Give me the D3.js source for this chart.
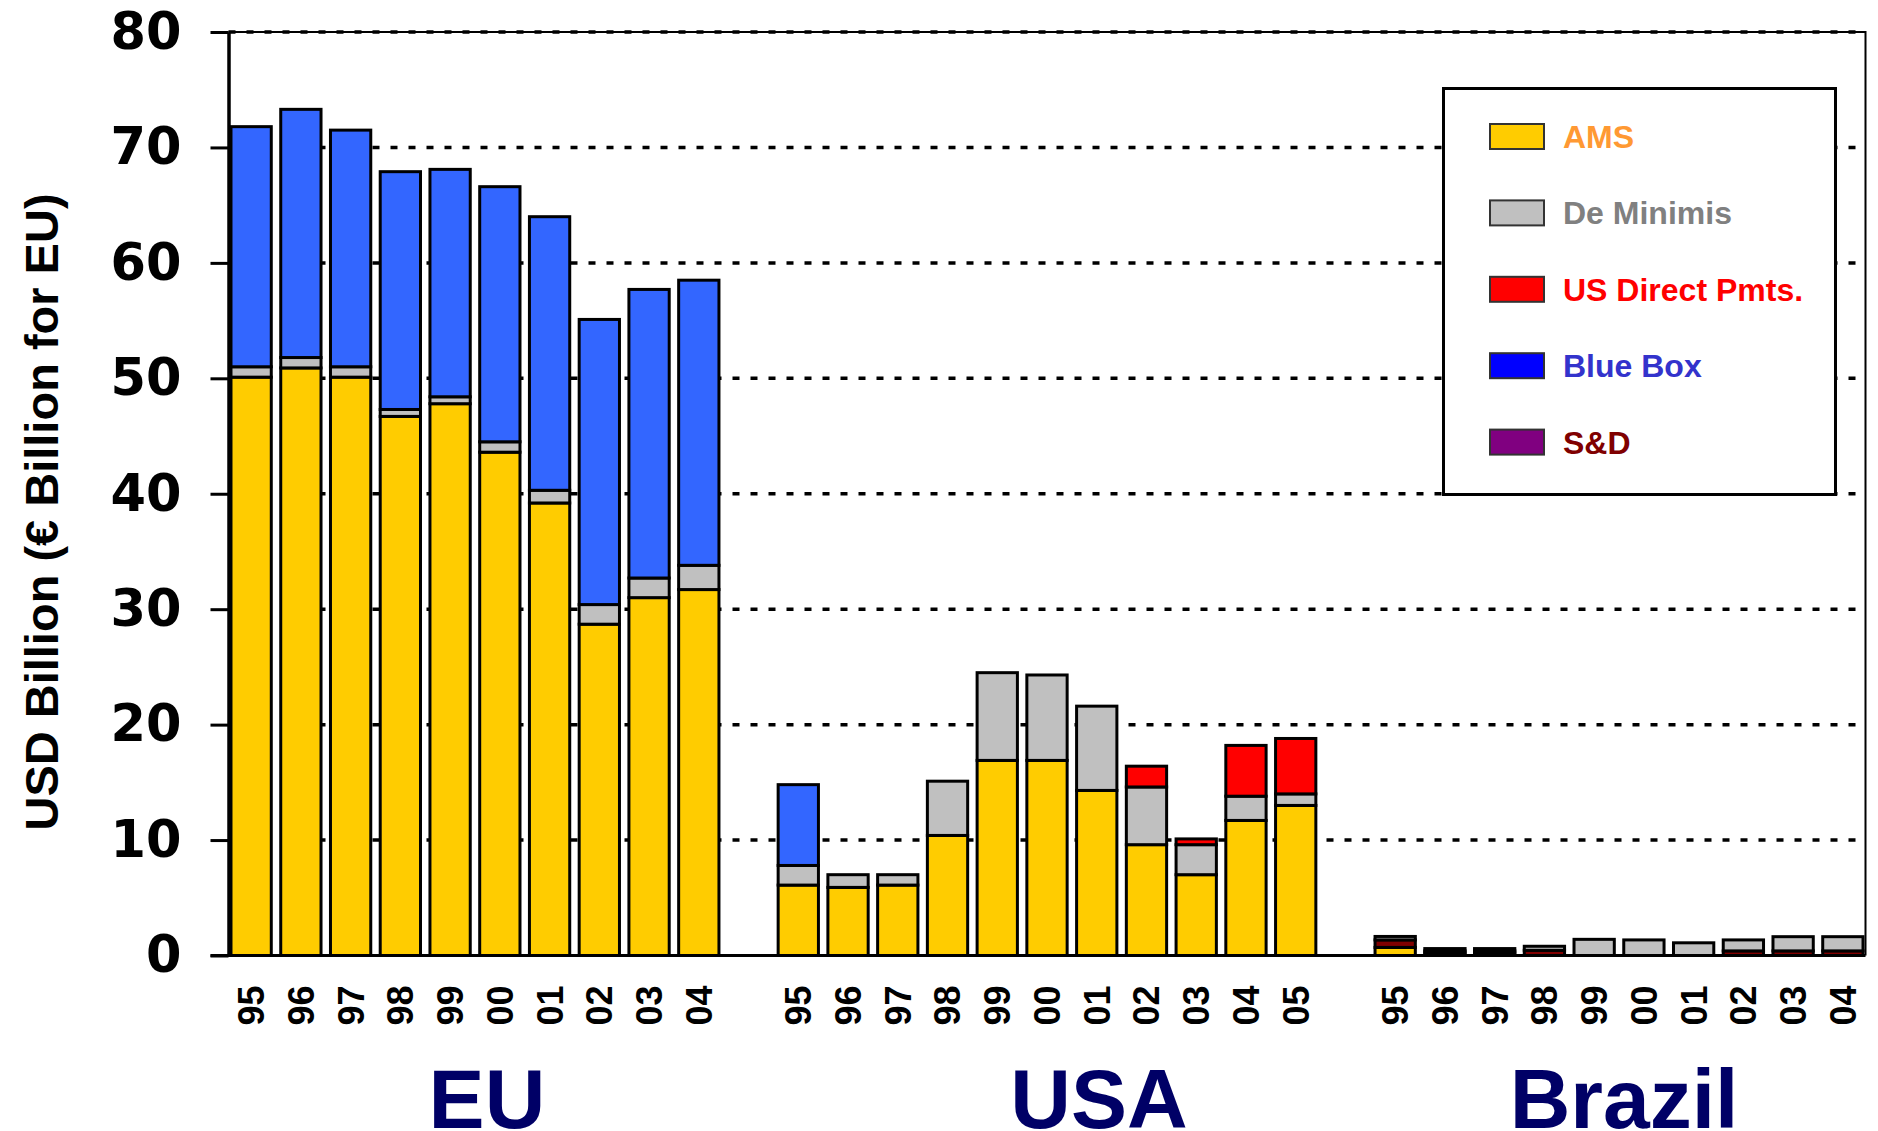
<!DOCTYPE html>
<html>
<head>
<meta charset="utf-8">
<script src="https://cdn.jsdelivr.net/npm/d3@7"></script>
<style>
  body { margin: 0; background: #fff; }
  svg { display: block; font-family: "Liberation Sans", Arial, sans-serif; font-weight: bold; }
</style>
</head>
<body>
<svg></svg>
<script>
// ---- data ----
const regionNames = ['EU', 'USA', 'Brazil'];
const euYears = ['95', '96', '97', '98', '99', '00', '01', '02', '03', '04'];
const usaYears = ['95', '96', '97', '98', '99', '00', '01', '02', '03', '04', '05'];
const brazilYears = ['95', '96', '97', '98', '99', '00', '01', '02', '03', '04'];

const euAMS = [50.1, 50.9, 50.1, 46.7, 47.8, 43.6, 39.2, 28.7, 31.0, 31.7];
const euDeMinimis = [0.9, 0.9, 0.9, 0.6, 0.6, 0.9, 1.1, 1.7, 1.7, 2.1];
const euBlueBox = [20.8, 21.5, 20.5, 20.6, 19.7, 22.1, 23.7, 24.7, 25.0, 24.7];

const usaAMS = [6.1, 5.9, 6.1, 10.4, 16.9, 16.9, 14.3, 9.6, 7.0, 11.7, 13.0];
const usaDeMinimis = [1.7, 1.1, 0.9, 4.7, 7.6, 7.4, 7.3, 5.0, 2.6, 2.1, 1.0];
const usaDirectPmts = [0, 0, 0, 0, 0, 0, 0, 1.8, 0.5, 4.4, 4.8];
const usaBlueBox = [7.0, 0, 0, 0, 0, 0, 0, 0, 0, 0, 0];

const brazilAMS = [0.7, 0.2, 0.2, 0, 0, 0, 0, 0, 0, 0];
const brazilSD = [0.65, 0.2, 0.2, 0.45, 0, 0, 0, 0.4, 0.4, 0.4];
const brazilDeMinimis = [0.3, 0.2, 0.2, 0.35, 1.4, 1.35, 1.1, 0.95, 1.23, 1.23];

const yTicks = [0, 10, 20, 30, 40, 50, 60, 70, 80];
const stackKeys = ['AMS', 'S&D', 'De Minimis', 'US Direct Pmts.', 'Blue Box'];
const legendKeys = ['AMS', 'De Minimis', 'US Direct Pmts.', 'Blue Box', 'S&D'];
const yTitle = 'USD Billion (€ Billion for EU)';

// ---- styles ----
const barColors = { 'AMS': '#ffcc00', 'S&D': '#800000', 'De Minimis': '#c0c0c0', 'US Direct Pmts.': '#ff0000', 'Blue Box': '#3366ff' };
const swatchColors = { 'AMS': '#ffcc00', 'S&D': '#800080', 'De Minimis': '#c0c0c0', 'US Direct Pmts.': '#ff0000', 'Blue Box': '#0000ff' };
const legendTextColors = { 'AMS': '#ff9933', 'S&D': '#800000', 'De Minimis': '#808080', 'US Direct Pmts.': '#ff0000', 'Blue Box': '#3333cc' };

const width = 1878;
const height = 1131;
const margin = { top: 32, right: 12.5, bottom: 175.5, left: 228.5 };
const plotRight = width - margin.right;
const plotBottom = height - margin.bottom;

// ---- build one row per bar; a blank slot separates the regions ----
function regionRows(region, years, series) {
  return years.map((year, i) => {
    const row = { slot: `${region}-${year}`, year: year };
    stackKeys.forEach((key) => { row[key] = series[key] ? series[key][i] : 0; });
    return row;
  });
}

const rows = [
  ...regionRows('EU', euYears, { 'AMS': euAMS, 'De Minimis': euDeMinimis, 'Blue Box': euBlueBox }),
  ...regionRows('USA', usaYears, { 'AMS': usaAMS, 'De Minimis': usaDeMinimis, 'US Direct Pmts.': usaDirectPmts, 'Blue Box': usaBlueBox }),
  ...regionRows('Brazil', brazilYears, { 'AMS': brazilAMS, 'S&D': brazilSD, 'De Minimis': brazilDeMinimis })
];
const regionSlots = [euYears, usaYears, brazilYears].map((years, r) => years.map((y) => `${regionNames[r]}-${y}`));
const slots = [...regionSlots[0], 'gap-1', ...regionSlots[1], 'gap-2', ...regionSlots[2]];

const svg = d3.select('svg')
  .attr('width', width)
  .attr('height', height);

svg.append('rect').attr('width', width).attr('height', height).attr('fill', '#fff');

const x = d3.scaleBand()
  .domain(slots)
  .range([margin.left, plotRight])
  .paddingInner(0.19)
  .paddingOuter(0.05);

const y = d3.scaleLinear()
  .domain([0, 80])
  .range([plotBottom, margin.top]);

// dotted gridlines go first, bars hide them
svg.append('g')
  .selectAll('line')
  .data(yTicks.filter((t) => t > 0))
  .enter()
  .append('line')
  .attr('x1', margin.left)
  .attr('x2', plotRight)
  .attr('y1', (d) => y(d))
  .attr('y2', (d) => y(d))
  .attr('stroke', '#000')
  .attr('stroke-width', 3.5)
  .attr('stroke-dasharray', '7,11');

// thin frame on top and right
svg.append('path')
  .attr('d', `M${margin.left},${margin.top}H${plotRight}V${plotBottom}`)
  .attr('fill', 'none')
  .attr('stroke', '#000')
  .attr('stroke-width', 2);

// stacked bars
const stacked = d3.stack().keys(stackKeys)(rows);
svg.append('g')
  .selectAll('g')
  .data(stacked)
  .enter()
  .append('g')
  .attr('fill', (s) => barColors[s.key])
  .selectAll('rect')
  .data((s) => s.filter((d) => d[1] - d[0] > 0))
  .enter()
  .append('rect')
  .attr('x', (d) => x(d.data.slot))
  .attr('width', x.bandwidth())
  .attr('y', (d) => y(d[1]))
  .attr('height', (d) => y(d[0]) - y(d[1]))
  .attr('stroke', '#000')
  .attr('stroke-width', 3);

// y axis with long ticks and big numbers
const yAxis = svg.append('g')
  .attr('transform', `translate(${margin.left},0)`)
  .call(d3.axisLeft(y).tickValues(yTicks).tickSize(18).tickSizeOuter(0).tickPadding(29));
yAxis.select('.domain').attr('stroke-width', 3.5);
yAxis.selectAll('.tick line').attr('stroke-width', 3);
yAxis.selectAll('.tick text')
  .attr('fill', '#000')
  .style('font-family', '"DejaVu Sans", sans-serif')
  .style('font-weight', 'bold')
  .style('font-size', '51px');

// bottom axis: year labels rotated, only on real bars
const xAxis = svg.append('g')
  .attr('transform', `translate(0,${plotBottom})`)
  .call(d3.axisBottom(x)
    .tickValues(rows.map((r) => r.slot))
    .tickFormat((s) => s.split('-')[1])
    .tickSize(0));
xAxis.select('.domain').remove();
xAxis.selectAll('.tick text')
  .attr('transform', 'rotate(-90)')
  .attr('x', -30)
  .attr('y', 0)
  .attr('dy', '0.36em')
  .attr('text-anchor', 'end')
  .attr('fill', '#000')
  .style('font-family', '"Liberation Sans", Arial, sans-serif')
  .style('font-weight', 'bold')
  .style('font-size', '36px');

// baseline runs out to the zero tick
svg.append('line')
  .attr('x1', margin.left - 18)
  .attr('x2', plotRight)
  .attr('y1', y(0))
  .attr('y2', y(0))
  .attr('stroke', '#000')
  .attr('stroke-width', 3);

// y title
svg.append('text')
  .attr('transform', `translate(58,512) rotate(-90)`)
  .attr('text-anchor', 'middle')
  .style('font-size', '47px')
  .attr('fill', '#000')
  .text(yTitle);

// region names under each group, nudged like the original
const regionShift = [12, 52, 5];
svg.append('g')
  .selectAll('text')
  .data(regionNames)
  .enter()
  .append('text')
  .attr('x', (d, i) => {
    const ids = regionSlots[i];
    const first = x(ids[0]);
    const last = x(ids[ids.length - 1]) + x.bandwidth();
    return (first + last) / 2 + regionShift[i];
  })
  .attr('y', 1128)
  .attr('text-anchor', 'middle')
  .attr('fill', '#000066')
  .style('font-size', '84px')
  .text((d) => d);

// legend box
const legend = svg.append('g');
legend.append('rect')
  .attr('x', 1443.5)
  .attr('y', 88.5)
  .attr('width', 392)
  .attr('height', 406)
  .attr('fill', '#fff')
  .attr('stroke', '#000')
  .attr('stroke-width', 3);

const legendItems = legend.selectAll('g.item')
  .data(legendKeys)
  .enter()
  .append('g')
  .attr('class', 'item')
  .attr('transform', (d, i) => `translate(0,${136.5 + i * 76.4})`);

legendItems.append('rect')
  .attr('x', 1490)
  .attr('y', -12.5)
  .attr('width', 54)
  .attr('height', 25)
  .attr('fill', (d) => swatchColors[d])
  .attr('stroke', '#333')
  .attr('stroke-width', 2);

legendItems.append('text')
  .attr('x', 1563)
  .attr('y', 11.5)
  .attr('fill', (d) => legendTextColors[d])
  .style('font-size', '32px')
  .text((d) => d);
</script>
</body>
</html>
